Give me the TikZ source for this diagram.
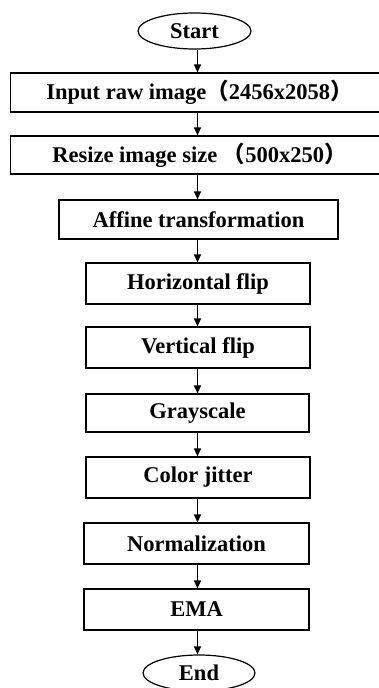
\documentclass[tikz,border=0pt]{standalone}
\usepackage{fontspec}
\setmainfont{Liberation Serif}
\newfontfamily\cjk{Noto Sans CJK SC}
\usetikzlibrary{shapes.geometric,arrows.meta}
\newcommand{\lp}{{\cjk （}}
\newcommand{\rp}{{\cjk ）}}
\begin{document}
\begin{tikzpicture}[x=1pt,y=-1pt,
  every node/.style={font=\fontsize{22.5}{24}\selectfont\bfseries, inner sep=0pt},
  stepbox/.style={draw, line width=1.2pt, rectangle},
  term/.style={draw, line width=1.2pt, ellipse, minimum width=113pt, minimum height=36pt},
  flow/.style={line width=1.3pt, -{Triangle[length=8pt,width=7pt]}}]
\useasboundingbox (0,0) rectangle (378,688);
\node[term] (start) at (194.5,31) {Start};
\node[stepbox, minimum width=378pt, minimum height=39pt] (input) at (199.5,92.5) {Input raw image\lp2456x2058\rp};
\node[stepbox, minimum width=378pt, minimum height=38pt] (resize) at (199.5,155) {Resize image size \lp500x250\rp};
\node[stepbox, minimum width=279pt, minimum height=39pt] (affine) at (198.5,219.5) {Affine transformation};
\node[stepbox, minimum width=224pt, minimum height=41pt] (hflip) at (198,283.5) {Horizontal flip};
\node[stepbox, minimum width=224pt, minimum height=41pt] (vflip) at (198,347.5) {Vertical flip};
\node[stepbox, minimum width=223pt, minimum height=38pt] (gray) at (197.5,413) {Grayscale};
\node[stepbox, minimum width=224pt, minimum height=41pt] (color) at (198,477.5) {Color jitter};
\node[stepbox, minimum width=225pt, minimum height=41pt] (norm) at (196.5,543.5) {Normalization};
\node[stepbox, minimum width=225pt, minimum height=41pt] (ema) at (196.5,609.5) {EMA};
\node[term, minimum width=112pt] (end) at (199,673) {End};
\coordinate (ax) at (197.5,0);
\foreach \a/\b in {start/input,input/resize,resize/affine,affine/hflip,hflip/vflip,vflip/gray,gray/color,color/norm,norm/ema,ema/end}
  \draw[flow] (ax |- \a.south) -- (ax |- \b.north);
\end{tikzpicture}
\end{document}
